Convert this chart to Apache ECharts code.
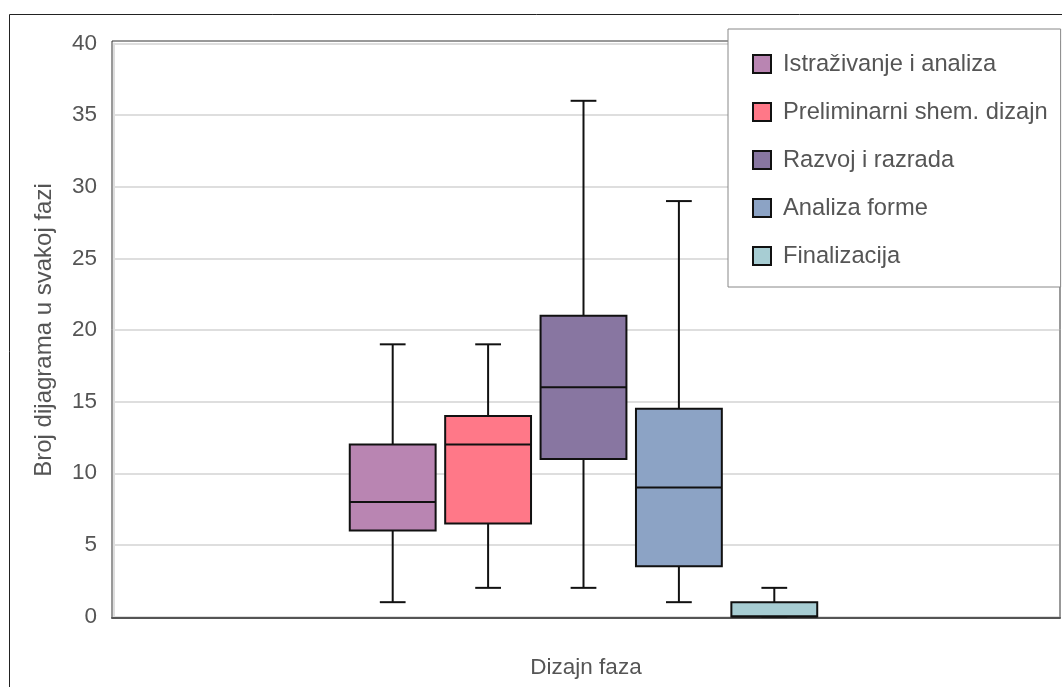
<!DOCTYPE html>
<html>
<head>
<meta charset="utf-8">
<script src="https://cdn.jsdelivr.net/npm/echarts@6/dist/echarts.min.js"></script>
<style>
html,body{margin:0;padding:0;background:#fff;}
#main{width:1062px;height:687px;}
</style>
</head>
<body>
<div id="main"></div>
<script>
// ---- data ----
const phases = ['Istraživanje i analiza', 'Preliminarni shem. dizajn', 'Razvoj i razrada', 'Analiza forme', 'Finalizacija'];
// [min, Q1, median, Q3, max]
const istrazivanje = [1, 6, 8, 12, 19];
const preliminarni = [2, 6.5, 12, 14, 19];
const razvoj = [2, 11, 16, 21, 36];
const analizaForme = [1, 3.5, 9, 14.5, 29];
const finalizacija = [0, 0, 0, 1, 2];
const yTicks = [0, 5, 10, 15, 20, 25, 30, 35, 40];
const xTitle = 'Dizajn faza';
const yTitle = 'Broj dijagrama u svakoj fazi';

const seriesValues = [istrazivanje, preliminarni, razvoj, analizaForme, finalizacija];
const colors = ['#B985B2', '#FF7888', '#8876A1', '#8CA3C5', '#A7CDD3'];
const FONT = "'Liberation Sans', Arial, sans-serif";
const TXT = '#555';

function renderBox(params, api) {
  const c = api.value(0);
  const pMin = api.coord([c, api.value(1)]);
  const pQ1 = api.coord([c, api.value(2)]);
  const pMed = api.coord([c, api.value(3)]);
  const pQ3 = api.coord([c, api.value(4)]);
  const pMax = api.coord([c, api.value(5)]);
  const bw = api.size([1, 0])[0] * 0.9;
  const cw = bw * 0.3;
  const cx = pMed[0];
  const ls = { stroke: '#111', lineWidth: 2 };
  return {
    type: 'group',
    children: [
      { type: 'line', shape: { x1: cx, y1: pMax[1], x2: cx, y2: pQ3[1] }, style: ls },
      { type: 'line', shape: { x1: cx, y1: pQ1[1], x2: cx, y2: pMin[1] }, style: ls },
      { type: 'line', shape: { x1: cx - cw / 2, y1: pMax[1], x2: cx + cw / 2, y2: pMax[1] }, style: ls },
      { type: 'line', shape: { x1: cx - cw / 2, y1: pMin[1], x2: cx + cw / 2, y2: pMin[1] }, style: ls },
      { type: 'rect', shape: { x: cx - bw / 2, y: pQ3[1], width: bw, height: pQ1[1] - pQ3[1] },
        style: { fill: api.visual('color'), stroke: '#111', lineWidth: 2 } },
      { type: 'line', shape: { x1: cx - bw / 2, y1: pMed[1], x2: cx + bw / 2, y2: pMed[1] }, style: ls }
    ]
  };
}

const series = phases.map((name, i) => ({
  name: name,
  type: 'custom',
  xAxisIndex: 2,
  yAxisIndex: 2,
  itemStyle: { color: colors[i] },
  encode: { x: 0, y: [1, 2, 3, 4, 5] },
  renderItem: renderBox,
  data: [[name].concat(seriesValues[i])],
  z: 5
}));

const chart = echarts.init(document.getElementById('main'), null, { renderer: 'canvas' });
chart.setOption({
  animation: false,
  backgroundColor: '#fff',
  textStyle: { fontFamily: FONT },
  graphic: [{
    type: 'rect', z: 0,
    shape: { x: 9.5, y: 14.5, width: 1100, height: 700 },
    style: { fill: 'none', stroke: '#222', lineWidth: 1 }
  }],
  grid: [
    { left: 112, right: 2, top: 41, bottom: 69, show: true, borderColor: '#333', borderWidth: 1, backgroundColor: 'transparent' },
    { left: 114, right: 3, top: 43.5, bottom: 70.5 },
    { left: 345, width: 477, top: 43.5, bottom: 70.5 }
  ],
  xAxis: [
    { gridIndex: 0, type: 'category', data: [''],
      axisLine: { show: true, lineStyle: { color: '#555', width: 2 } },
      axisTick: { show: false }, axisLabel: { show: false },
      name: xTitle, nameLocation: 'middle', nameGap: 38,
      nameTextStyle: { fontSize: 22.5, color: TXT, fontFamily: FONT } },
    { gridIndex: 1, type: 'category', data: [''], show: false },
    { gridIndex: 2, type: 'category', data: phases, show: false }
  ],
  yAxis: [
    { gridIndex: 0, type: 'value', min: 0, max: 40, show: false },
    { gridIndex: 1, type: 'value', min: yTicks[0], max: yTicks[yTicks.length - 1], interval: yTicks[1] - yTicks[0],
      axisLine: { show: true, lineStyle: { color: '#ddd', width: 2 } },
      axisTick: { show: false },
      axisLabel: { fontSize: 22.5, color: TXT, margin: 17, fontFamily: FONT },
      splitLine: { show: true, lineStyle: { color: '#dedede', width: 2 } },
      name: yTitle, nameLocation: 'middle', nameGap: 58, nameRotate: 90,
      nameTextStyle: { fontSize: 24, color: TXT, fontFamily: FONT } },
    { gridIndex: 2, type: 'value', min: 0, max: 40, show: false }
  ],
  legend: {
    orient: 'vertical',
    left: 728, top: 29,
    padding: [23, 13, 19, 24],
    itemGap: 24,
    itemWidth: 18, itemHeight: 18,
    icon: 'rect',
    itemStyle: { borderColor: '#111', borderWidth: 2 },
    textStyle: { fontSize: 23.7, color: TXT, fontFamily: FONT, padding: [0, 0, 0, 7] },
    borderColor: '#888', borderWidth: 1,
    backgroundColor: '#fff',
    borderRadius: 0,
    z: 20,
    data: phases
  },
  series: series
});
</script>
</body>
</html>
